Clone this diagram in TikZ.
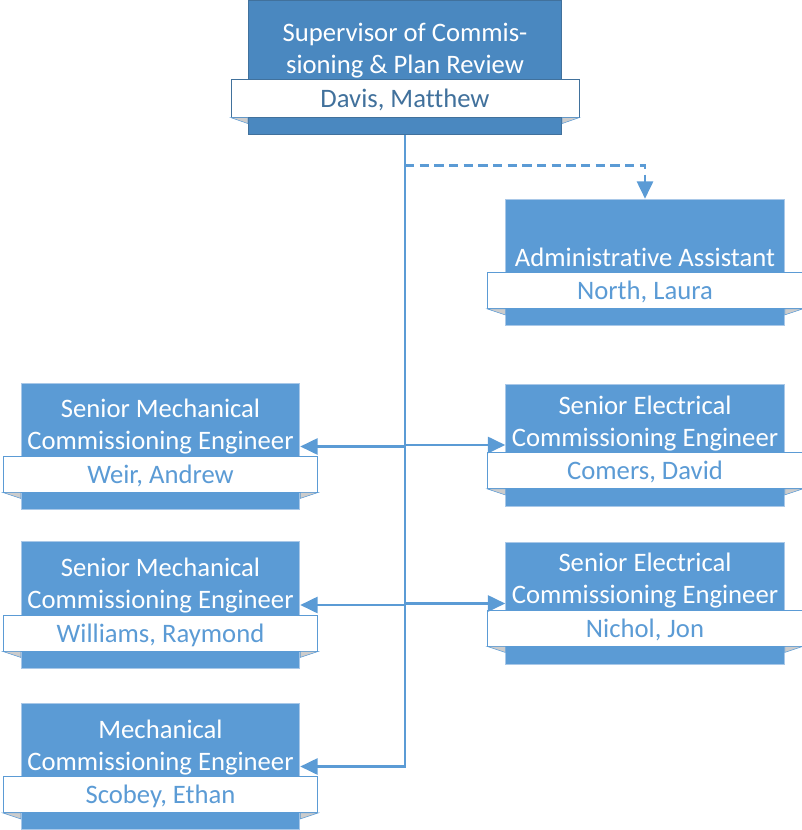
\documentclass[tikz,border=0pt]{standalone}
\usepackage{fontspec}
\setmainfont{Carlito}[Ligatures={NoCommon,NoContextual,NoRare}]
\usetikzlibrary{arrows.meta,positioning,calc}
\definecolor{orgblue}{HTML}{5B9BD5}
\definecolor{topblue}{HTML}{4A88C0}
\definecolor{darkblue}{HTML}{41719C}
\definecolor{edgeblue}{HTML}{A9C8E8}

\begin{document}
\begin{tikzpicture}[x=0.75pt,y=-0.75pt,
    box/.style={draw=edgeblue, fill=orgblue, line width=0.6pt, minimum width=209pt, minimum height=95pt, inner sep=0pt},
    band/.style={draw=orgblue, fill=white, line width=0.6pt, minimum width=236pt, minimum height=27pt, inner sep=0pt, text height=15pt, text depth=1pt, text=orgblue, font=\fontsize{20}{24}\selectfont},
    title/.style={text=white, align=center, inner sep=0pt, anchor=base, font=\fontsize{20}{24}\selectfont},
    fold/.style={fill=gray!40, draw=orgblue, line width=0.4pt},
    conn/.style={draw=orgblue, line width=2pt},
    link/.style={conn, -{Triangle[length=13pt,width=12pt]}}]
    \useasboundingbox (0,0) rectangle (801,830);

    % supervisor
    \node[box, fill=topblue, draw=darkblue, minimum width=235pt, minimum height=101pt] (sup) at (405,67.5) {};
    \node[band, draw=darkblue, text=darkblue, minimum width=261pt, minimum height=28pt] (sup-name) at (405,98.5) {Davis, Matthew};
    \node[title] at ($(sup-name.north)+(0,-6)$) {Supervisor of Commis-\\sioning \& Plan Review};

    % assistant
    \node[box] (admin) at (645,262.5) {};
    \node[band] (admin-name) at (645,290.5) {North, Laura};
    \node[title] at ($(admin-name.north)+(0,-6)$) {Administrative Assistant};

    % left column
    \node[box] (weir) at (160.5,446.5) {};
    \node[band] (weir-name) at (160.5,474) {Weir, Andrew};
    \node[title] at ($(weir-name.north)+(0,-6)$) {Senior Mechanical\\Commissioning Engineer};

    \node[box] (williams) at (160.5,605) {};
    \node[band] (williams-name) at (160.5,633) {Williams, Raymond};
    \node[title] at ($(williams-name.north)+(0,-6)$) {Senior Mechanical\\Commissioning Engineer};

    \node[box] (scobey) at (160.5,766.5) {};
    \node[band] (scobey-name) at (160.5,794.5) {Scobey, Ethan};
    \node[title] at ($(scobey-name.north)+(0,-6)$) {Mechanical\\Commissioning Engineer};

    % right column
    \node[box, minimum height=91.5pt] (comers) at (645,445) {};
    \node[band] (comers-name) at (645,470.5) {Comers, David};
    \node[title] at ($(comers-name.north)+(0,-6)$) {Senior Electrical\\Commissioning Engineer};

    \node[box, minimum height=91pt] (nichol) at (645,603.5) {};
    \node[band] (nichol-name) at (645,628) {Nichol, Jon};
    \node[title] at ($(nichol-name.north)+(0,-6)$) {Senior Electrical\\Commissioning Engineer};

    % folded band ends
    \foreach \n in {sup,admin,weir,williams,scobey,comers,nichol} {
        \filldraw[fold] (\n-name.south west) -- (\n.west |- \n-name.south) -- ++(0,6) -- cycle;
        \filldraw[fold] (\n-name.south east) -- (\n.east |- \n-name.south) -- ++(0,6) -- cycle;
    }

    % connectors
    \coordinate (split) at ($(sup.south)+(0,30)$);
    \draw[link, dash pattern=on 7pt off 4pt] (split) -| (admin.north);
    \draw[link] (sup.south) |- (scobey.east);
    \draw[link] (sup.south |- weir.east) -- (weir.east);
    \draw[link] (sup.south |- williams.east) -- (williams.east);
    \draw[link] (sup.south |- comers.west) -- (comers.west);
    \draw[link] (sup.south |- nichol.west) -- (nichol.west);
\end{tikzpicture}
\end{document}
